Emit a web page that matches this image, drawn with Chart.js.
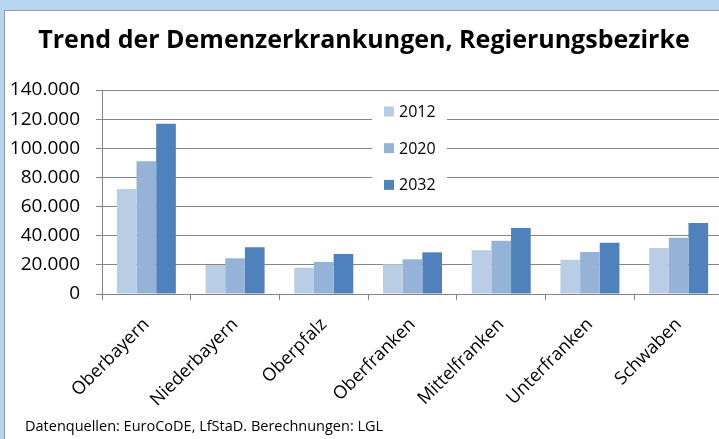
<!DOCTYPE html>
<html>
<head>
<meta charset="utf-8">
<script src="https://cdn.jsdelivr.net/npm/chart.js@4/dist/chart.umd.min.js"></script>
<style>
html, body { margin: 0; padding: 0; width: 719px; height: 439px; overflow: hidden; background: #b7d5f0; }
#frame { position: absolute; left: 4px; top: 10px; width: 740px; height: 440px; background: #fff; border: 1px solid #9a9a9a; }
#chart { position: absolute; left: 0; top: 0; }
</style>
</head>
<body>
<div id="frame"><canvas id="chart" width="740" height="430"></canvas></div>
<script>
// Chart data
const regions = ['Oberbayern', 'Niederbayern', 'Oberpfalz', 'Oberfranken', 'Mittelfranken', 'Unterfranken', 'Schwaben'];
const years = ['2012', '2020', '2032'];
const values2012 = [72100, 19900, 18100, 20400, 30000, 23500, 31600];
const values2020 = [91100, 24500, 22000, 23800, 36600, 28800, 38600];
const values2032 = [116900, 32100, 27500, 28600, 45300, 35200, 48700];
const yTicks = [0, 20000, 40000, 60000, 80000, 100000, 120000, 140000];
const colors = ['#b9cde5', '#95b3d7', '#4f81bd'];
const sourceNote = 'Datenquellen: EuroCoDE, LfStaD. Berechnungen: LGL';

const gridColor = '#858585';
const fontFamily = '"Open Sans", sans-serif';

// Format numbers with a dot as thousands separator
function formatNumber(value) {
    return String(value).replace(/\B(?=(\d{3})+(?!\d))/g, '.');
}

// Legend drawn inside the plot area on a white box, plus the source note at the bottom
const insideLegend = {
    id: 'insideLegend',
    afterDatasetsDraw(chart, args, opts) {
        const ctx = chart.ctx;
        const area = chart.chartArea;
        ctx.save();
        ctx.fillStyle = '#fff';
        ctx.fillRect(area.left + opts.boxX, area.top + opts.boxY, opts.boxW, opts.boxH);
        ctx.font = '16px ' + fontFamily;
        ctx.textBaseline = 'middle';
        chart.data.datasets.forEach((ds, i) => {
            const y = area.top + opts.firstY + i * opts.rowGap;
            ctx.fillStyle = ds.backgroundColor;
            ctx.fillRect(area.left + opts.markX, y - 5, 10, 10);
            ctx.fillStyle = '#000';
            ctx.fillText(ds.label, area.left + opts.markX + 15, y + 1);
        });

        // Source note
        ctx.font = '14.5px ' + fontFamily;
        ctx.textBaseline = 'alphabetic';
        ctx.fillStyle = '#000';
        ctx.fillText(sourceNote, opts.noteX, chart.height - opts.noteBottom);
        ctx.restore();
    }
};

const datasets = [values2012, values2020, values2032].map((vals, i) => ({
    label: years[i],
    data: vals,
    backgroundColor: colors[i],
    borderWidth: 0,
    categoryPercentage: 0.665,
    barPercentage: 1.0
}));

new Chart(document.getElementById('chart').getContext('2d'), {
    type: 'bar',
    data: { labels: regions, datasets: datasets },
    options: {
        responsive: false,
        animation: false,
        layout: { padding: { left: 0, right: 22, top: 0, bottom: 0 } },
        scales: {
            x: {
                offset: true,
                grid: { drawOnChartArea: false, drawTicks: true, tickLength: 6, color: gridColor, offset: true },
                border: { display: true, color: gridColor },
                ticks: {
                    autoSkip: false,
                    minRotation: 45,
                    maxRotation: 45,
                    padding: 14,
                    color: '#000',
                    font: { family: fontFamily, size: 18 }
                },
                afterFit: (scale) => { scale.height = 147; }
            },
            y: {
                min: 0,
                max: 140000,
                afterBuildTicks: (scale) => { scale.ticks = yTicks.map(v => ({ value: v })); },
                grid: { color: gridColor, tickLength: 6, drawTicks: true },
                border: { display: true, color: gridColor },
                ticks: {
                    padding: 16,
                    color: '#000',
                    font: { family: fontFamily, size: 19 },
                    callback: (value) => formatNumber(value)
                },
                afterFit: (scale) => { scale.width = 97; }
            }
        },
        plugins: {
            legend: { display: false },
            tooltip: { enabled: false },
            title: {
                display: true,
                text: 'Trend der Demenzerkrankungen, Regierungsbezirke',
                color: '#000',
                font: { family: fontFamily, size: 25, weight: 'bold' },
                padding: { top: 15, bottom: 34 }
            },
            insideLegend: { boxX: 270, boxY: 10, boxW: 75, boxH: 96, markX: 282, firstY: 21.5, rowGap: 36.7, noteX: 20, noteBottom: 10 }
        }
    },
    plugins: [insideLegend]
});
</script>
</body>
</html>
